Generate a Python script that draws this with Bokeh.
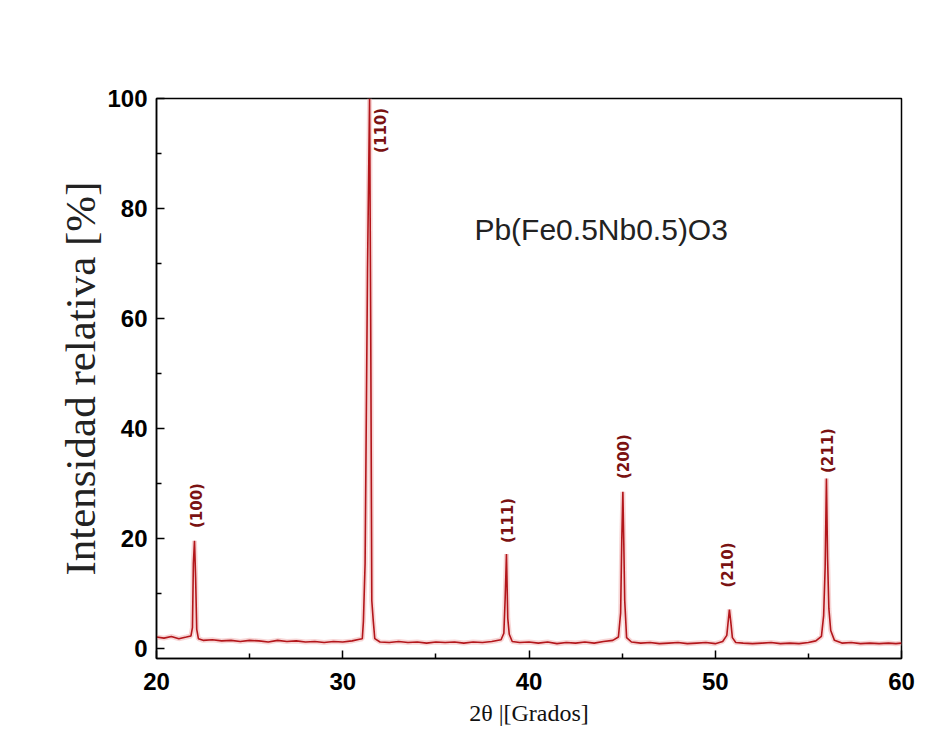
import math
from bokeh.plotting import figure
from bokeh.models import Label, FixedTicker, Range1d
from bokeh.embed import file_html
from bokeh.resources import INLINE

# ---- data ----
two_theta = [20.0, 20.4, 20.8, 21.2, 21.6, 21.85, 21.93, 21.98, 22.04, 22.10, 22.16, 22.25, 22.5,
             23.0, 23.5, 24.0, 24.5, 25.0, 25.5, 26.0, 26.5, 27.0, 27.5, 28.0, 28.5, 29.0, 29.5,
             30.0, 30.5, 30.9, 31.05, 31.11, 31.2, 31.33, 31.44, 31.5, 31.56, 31.64, 31.72, 32.0,
             32.5, 33.0, 33.5, 34.0, 34.5, 35.0, 35.5, 36.0, 36.5, 37.0, 37.5, 38.0, 38.5, 38.65,
             38.72, 38.79, 38.86, 38.94, 39.1, 39.5, 40.0, 40.5, 41.0, 41.5, 42.0, 42.5, 43.0,
             43.5, 44.0, 44.5, 44.8, 44.92, 44.98, 45.04, 45.09, 45.14, 45.24, 45.5, 46.0, 46.5,
             47.0, 47.5, 48.0, 48.5, 49.0, 49.5, 50.0, 50.4, 50.62, 50.70, 50.76, 50.83, 50.92,
             51.1, 51.5, 52.0, 52.5, 53.0, 53.5, 54.0, 54.5, 55.0, 55.4, 55.7, 55.82, 55.9, 55.97,
             56.03, 56.1, 56.2, 56.4, 56.8, 57.3, 57.8, 58.3, 58.8, 59.3, 59.7, 60.0]
intensity = [2.1, 1.9, 2.2, 1.8, 2.1, 2.3, 3.8, 15.5, 19.6, 12.9, 3.5, 1.8, 1.5,
             1.6, 1.4, 1.5, 1.3, 1.5, 1.4, 1.2, 1.5, 1.3, 1.4, 1.2, 1.3, 1.1, 1.3,
             1.2, 1.4, 1.7, 1.8, 5.0, 15.5, 69.0, 100.0, 60.0, 8.7, 5.0, 1.8, 1.2,
             1.1, 1.3, 1.1, 1.2, 1.0, 1.2, 1.1, 1.2, 1.0, 1.2, 1.1, 1.3, 1.6, 2.8,
             9.1, 17.2, 5.5, 2.6, 1.3, 1.1, 1.2, 1.0, 1.2, 0.9, 1.1, 1.0, 1.2,
             1.0, 1.3, 1.5, 2.1, 6.5, 19.5, 28.5, 19.1, 8.7, 2.0, 1.2, 1.0, 1.1,
             0.9, 1.0, 1.1, 0.9, 1.0, 1.1, 0.9, 1.3, 2.4, 5.1, 7.1, 5.0, 2.0,
             1.1, 1.0, 0.9, 1.0, 1.1, 0.9, 1.0, 0.9, 1.1, 1.4, 2.2, 6.0, 14.7, 30.9,
             16.5, 7.3, 3.3, 1.5, 1.0, 1.1, 0.9, 1.0, 0.9, 1.0, 0.9, 1.0]

peak_labels = ["(100)", "(110)", "(111)", "(200)", "(210)", "(211)"]
peak_label_x = [22.15, 32.08, 38.85, 45.1, 50.71, 56.03]
peak_label_y = [26.0, 94.2, 23.3, 34.9, 15.2, 36.0]

x_ticks = [20, 30, 40, 50, 60]
x_minor = [25, 35, 45, 55]
y_ticks = [0, 20, 40, 60, 80, 100]
y_minor = [10, 30, 50, 70, 90]

sample_name = "Pb(Fe0.5Nb0.5)O3"
y_title = "Intensidad relativa [%]"
x_title = "2θ |[Grados]"

# ---- figure ----
p = figure(width=931, height=738, output_backend="svg", toolbar_location=None,
           x_range=Range1d(20, 60), y_range=Range1d(-1.8, 100),
           min_border_left=156, min_border_right=30, min_border_top=98, min_border_bottom=80)
p.background_fill_color = "white"
p.border_fill_color = "white"
p.outline_line_color = "black"
p.outline_line_width = 1.5
p.grid.visible = False

p.xaxis.ticker = FixedTicker(ticks=x_ticks, minor_ticks=x_minor)
p.yaxis.ticker = FixedTicker(ticks=y_ticks, minor_ticks=y_minor)
for ax in (p.xaxis[0], p.yaxis[0]):
    ax.axis_line_color = "black"
    ax.axis_line_width = 1.5
    ax.major_tick_in = 8
    ax.major_tick_out = 0
    ax.minor_tick_in = 5
    ax.minor_tick_out = 0
    ax.major_tick_line_width = 1.5
    ax.minor_tick_line_width = 1.5
    ax.major_label_text_font = "Liberation Sans"
    ax.major_label_text_font_style = "bold"
    ax.major_label_text_font_size = "24px"
    ax.major_label_text_color = "black"
p.xaxis.major_label_standoff = 14
p.yaxis.major_label_standoff = 9

p.yaxis.axis_label = y_title
p.yaxis.axis_label_text_font = "Liberation Serif"
p.yaxis.axis_label_text_font_style = "normal"
p.yaxis.axis_label_text_font_size = "43px"
p.yaxis.axis_label_text_color = "#222222"
p.yaxis.axis_label_standoff = 0

p.xaxis.axis_label = x_title
p.xaxis.axis_label_text_font = "Liberation Serif"
p.xaxis.axis_label_text_font_style = "normal"
p.xaxis.axis_label_text_font_size = "24px"
p.xaxis.axis_label_text_color = "#111111"
p.xaxis.axis_label_standoff = 7

# pattern: faint halo then red line
p.line(two_theta, intensity, line_color="#f0b4b4", line_width=5, line_alpha=0.55)
p.line(two_theta, intensity, line_color="#b3161b", line_width=1.6)

# peak labels (vertical, reading bottom to top)
for t, x, y in zip(peak_labels, peak_label_x, peak_label_y):
    p.add_layout(Label(x=x, y=y, text=t, angle=math.pi / 2, text_align="center",
                       text_baseline="middle", text_font="DejaVu Sans", text_font_style="bold",
                       text_font_size="15px", text_color="#7a1212"))

# sample name
p.add_layout(Label(x=37.07, y=76.2, text=sample_name, text_align="left", text_baseline="middle",
                   text_font="Liberation Sans", text_font_size="30px", text_color="#222222"))

open("out.html", "w").write(file_html(p, INLINE))
